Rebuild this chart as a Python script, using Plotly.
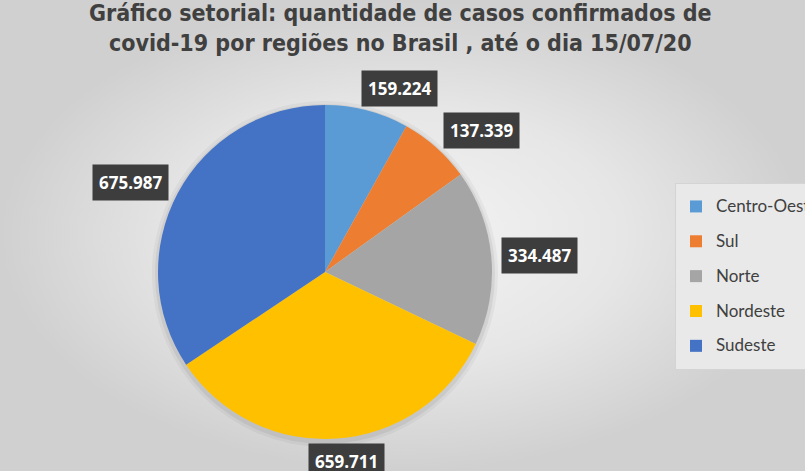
import numpy as np
import plotly.graph_objects as go

# dados do gráfico (casos confirmados até 15/07/20)
regioes = ['Centro-Oeste', 'Sul', 'Norte', 'Nordeste', 'Sudeste']
casos = [159224, 137339, 334487, 659711, 675987]
rotulos = ['159.224', '137.339', '334.487', '659.711', '675.987']
cores = ['#5B9BD5', '#ED7D31', '#A5A5A5', '#FFC000', '#4472C4']

W, H = 805, 471
cx, cy, r = 325, 272, 167   # centro e raio da pizza em px (origem no topo)

dom_x = [(cx - r) / W, (cx + r) / W]
dom_y = [(H - cy - r) / H, (H - cy + r) / H]

fig = go.Figure()

# fundo com gradiente radial
fig.add_trace(go.Scatter(
    x=[0, W, W, 0, 0], y=[0, 0, H, H, 0],
    mode='lines', fill='toself', line=dict(width=0),
    fillgradient=dict(type='radial',
                      colorscale=[[0, '#f4f4f4'], [0.55, '#e6e6e6'], [1, '#d0d0d0']]),
    hoverinfo='skip', showlegend=False
))

# sombra suave da pizza
for sh, a in [(6, 0.04), (3, 0.06)]:
    fig.add_trace(go.Pie(
        values=[1], labels=['s'],
        domain=dict(x=[(cx - r - sh) / W, (cx + r + sh) / W],
                    y=[(H - cy - r - sh - 2) / H, (H - cy + r + sh - 2) / H]),
        marker=dict(colors=[f'rgba(0,0,0,{a})'], line=dict(width=0)),
        textinfo='none', hoverinfo='skip', showlegend=False, sort=False
    ))

# legenda: fonte grande só para dar o espaçamento entre itens
leg = [f'<span style="font-size:17px;baseline-shift:4px">{g}</span>' for g in regioes]

fig.add_trace(go.Pie(
    labels=leg, values=casos, sort=False, direction='clockwise', rotation=0,
    domain=dict(x=dom_x, y=dom_y),
    marker=dict(colors=cores, line=dict(width=0)),
    textinfo='none', customdata=regioes,
    hovertemplate='%{customdata}: %{value:,}<extra></extra>'
))

# rótulos de dados em caixas escuras, fora da borda
tot = sum(casos)
acum = np.cumsum([0] + casos)
bw, bh, gap = 40, 15, 8
for i, txt in enumerate(rotulos):
    th = 2 * np.pi * (acum[i] + casos[i] / 2) / tot
    px = cx + (r + gap) * np.sin(th) + bw * np.clip(3 * np.sin(th), -1, 1)
    py = cy - (r + gap) * np.cos(th) - bh * np.cos(th)
    fig.add_annotation(
        x=px / W, y=(H - py) / H, xref='paper', yref='paper',
        text=f'<b>{txt}</b>', showarrow=False,
        xanchor='center', yanchor='middle',
        font=dict(family='Open Sans', size=17, color='white'),
        bgcolor='#3d3d3d', borderpad=6
    )

# título
fig.add_annotation(
    x=0.497, y=1.0, xref='paper', yref='paper', xanchor='center', yanchor='top',
    yshift=2,
    text='<b>Gráfico setorial: quantidade de casos confirmados de<br>'
         'covid-19 por regiões no Brasil , até o dia 15/07/20</b>',
    showarrow=False, align='center',
    font=dict(family='DejaVu Sans Condensed', size=23, color='#404040')
)

fig.update_layout(
    width=W, height=H,
    margin=dict(l=0, r=0, t=0, b=0, autoexpand=False),
    paper_bgcolor='#e4e4e4', plot_bgcolor='rgba(0,0,0,0)',
    xaxis=dict(range=[0, W], visible=False, domain=[0, 1], fixedrange=True),
    yaxis=dict(range=[0, H], visible=False, domain=[0, 1], fixedrange=True),
    legend=dict(
        x=675 / W, xanchor='left', y=(H - 183) / H, yanchor='top',
        bgcolor='#e9e9e9', bordercolor='#d4d4d4', borderwidth=1,
        font=dict(family='Lato', size=24.5, color='#404040'),
        itemwidth=30
    ),
    showlegend=True
)

fig.write_html('out.html', config={'displayModeBar': False},
               post_script="document.body.style.margin='0';")
